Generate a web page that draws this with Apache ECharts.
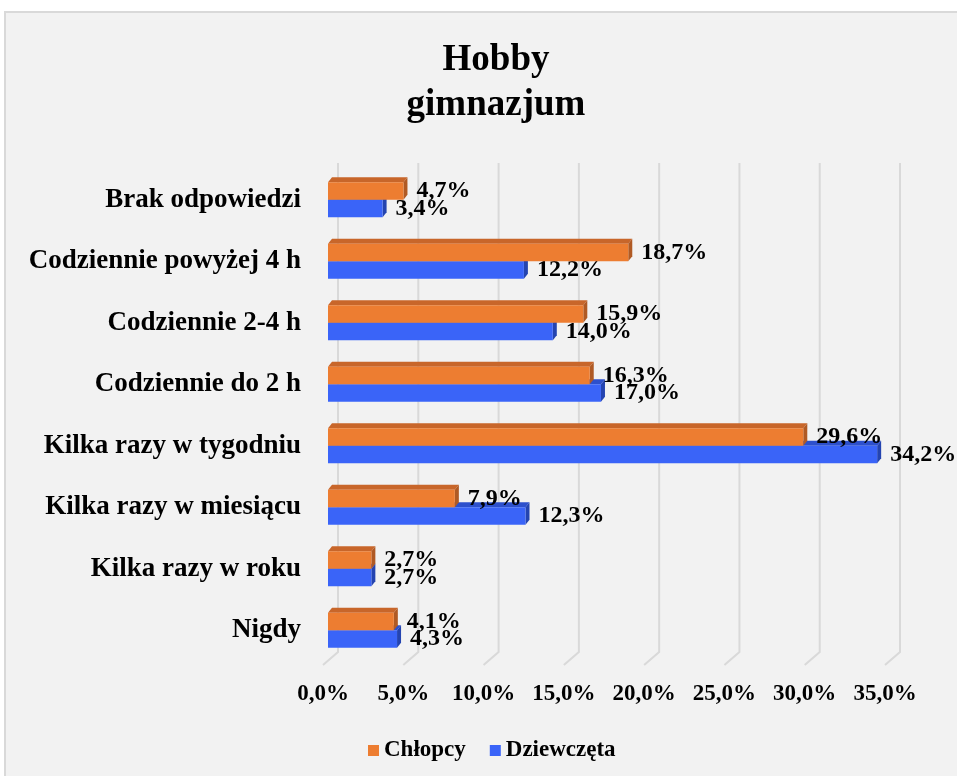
<!DOCTYPE html>
<html>
<head>
<meta charset="utf-8">
<script src="https://cdn.jsdelivr.net/npm/echarts@6/dist/echarts.min.js"></script>
<style>
  html, body { margin: 0; padding: 0; background: #fff; }
  #chart { width: 957px; height: 776px; }
</style>
</head>
<body>
<div id="chart"></div>
<script>
// kategorie od góry do dołu
const categories = [
  "Brak odpowiedzi",
  "Codziennie powyżej 4 h",
  "Codziennie 2-4 h",
  "Codziennie do 2 h",
  "Kilka razy w tygodniu",
  "Kilka razy w miesiącu",
  "Kilka razy w roku",
  "Nigdy"
];
const chlopcy = [4.7, 18.7, 15.9, 16.3, 29.6, 7.9, 2.7, 4.1];
const dziewczeta = [3.4, 12.2, 14.0, 17.0, 34.2, 12.3, 2.7, 4.3];
const ticks = [0, 5, 10, 15, 20, 25, 30, 35];

const FONT = '"Liberation Serif", "Times New Roman", serif';
const fmt = v => v.toFixed(1).replace(".", ",") + "%";

// kolory: przód, góra, bok
const ORANGE = ["#ED7D31", "#C8662A", "#B05A24"];
const BLUE = ["#3A64F8", "#2D50CC", "#2444B0"];

// słupek 3D (przód + góra + bok) z etykietą
function bar3D(colors, upper) {
  return function(params, api) {
    const v = api.value(0);
    const i = api.value(1);
    const end = api.coord([v, i]);
    const start = api.coord([0, i]);
    const band = api.size([0, 1])[1];
    const h = band * 0.285;
    const dx = 4, dy = 5;
    const y0 = upper ? end[1] - h : end[1];
    const x0 = start[0], x1 = end[0];
    return {
      type: "group",
      children: [
        {
          type: "polygon",
          shape: { points: [[x0, y0], [x0 + dx, y0 - dy], [x1 + dx, y0 - dy], [x1, y0]] },
          style: { fill: colors[1] }
        },
        {
          type: "polygon",
          shape: { points: [[x1, y0], [x1 + dx, y0 - dy], [x1 + dx, y0 + h - dy], [x1, y0 + h]] },
          style: { fill: colors[2] }
        },
        {
          type: "rect",
          shape: { x: x0, y: y0, width: x1 - x0, height: h },
          style: { fill: colors[0] }
        },
        {
          type: "text",
          style: {
            text: fmt(v),
            x: x1 + 13,
            y: y0 + h / 2,
            align: "left",
            verticalAlign: "middle",
            font: "bold 24px " + FONT,
            fill: "#000"
          }
        }
      ]
    };
  };
}

// linie siatki z "podłogą" 3D
function gridLine(params, api) {
  const v = api.value(0);
  const p = api.coord([v, 0]);
  const band = api.size([0, 1])[1];
  const top = p[1] - band / 2;
  const bottom = top + band * categories.length;
  const bx = p[0] + 10;
  return {
    type: "polyline",
    shape: { points: [[bx, top - 6], [bx, bottom - 9], [p[0] - 5, bottom + 4]] },
    style: { stroke: "#D9D9D9", lineWidth: 2, fill: null }
  };
}

const chart = echarts.init(document.getElementById("chart"));
chart.setOption({
  backgroundColor: "transparent",
  animation: false,
  graphic: [
    {
      type: "rect",
      shape: { x: 5, y: 12, width: 1000, height: 800 },
      style: { fill: "#F2F2F2", stroke: "#D9D9D9", lineWidth: 2 },
      z: -10
    }
  ],
  title: {
    text: "Hobby\ngimnazjum",
    left: 491,
    top: 33,
    textAlign: "center",
    textStyle: {
      fontFamily: FONT,
      fontWeight: "bold",
      fontSize: 37,
      lineHeight: 45,
      color: "#000"
    }
  },
  legend: {
    data: ["Chłopcy", "Dziewczęta"],
    left: 363,
    top: 734,
    icon: "rect",
    itemWidth: 11,
    itemHeight: 11,
    itemGap: 24,
    textStyle: { fontFamily: FONT, fontWeight: "bold", fontSize: 23, color: "#000" }
  },
  grid: { left: 328, top: 169, width: 562, height: 492, containLabel: false },
  xAxis: {
    type: "value",
    min: 0,
    max: 35,
    interval: 5,
    axisLine: { show: false },
    axisTick: { show: false },
    splitLine: { show: false },
    axisLabel: {
      formatter: v => fmt(v),
      margin: 22,
      padding: [0, 10, 0, 0],
      fontFamily: FONT,
      fontWeight: "bold",
      fontSize: 23,
      color: "#000"
    }
  },
  yAxis: {
    type: "category",
    inverse: true,
    data: categories,
    axisLine: { show: false },
    axisTick: { show: false },
    splitLine: { show: false },
    axisLabel: {
      margin: 27,
      fontFamily: FONT,
      fontWeight: "bold",
      fontSize: 27,
      color: "#000"
    }
  },
  series: [
    {
      type: "custom",
      name: "siatka",
      renderItem: gridLine,
      data: ticks.map(t => [t, 0]),
      encode: { x: 0, y: 1 },
      silent: true,
      z: 1
    },
    {
      type: "custom",
      name: "Dziewczęta",
      renderItem: bar3D(BLUE, false),
      data: dziewczeta.map((v, i) => [v, i]),
      encode: { x: 0, y: 1 },
      itemStyle: { color: BLUE[0] },
      z: 2
    },
    {
      type: "custom",
      name: "Chłopcy",
      renderItem: bar3D(ORANGE, true),
      data: chlopcy.map((v, i) => [v, i]),
      encode: { x: 0, y: 1 },
      itemStyle: { color: ORANGE[0] },
      z: 3
    }
  ]
});
</script>
</body>
</html>
